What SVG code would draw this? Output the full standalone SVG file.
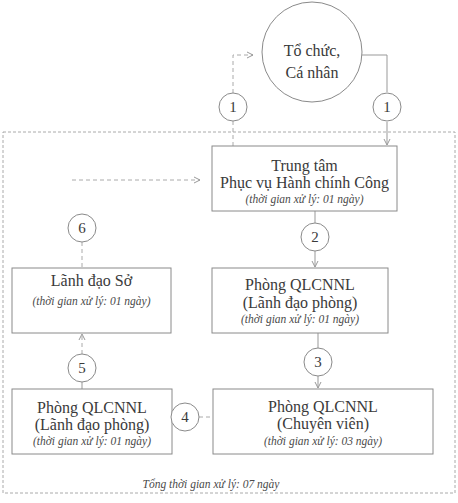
<svg xmlns="http://www.w3.org/2000/svg" width="458" height="503" viewBox="0 0 458 503">
<style>
.box{fill:#fff;stroke:#8a8a8a;stroke-width:1}
.cir{fill:#fff;stroke:#8a8a8a;stroke-width:1}
.t{font-family:"Liberation Serif",serif;font-size:16px;fill:#3a3a3a;text-anchor:middle}
.i{font-family:"Liberation Serif",serif;font-size:11.5px;font-style:italic;fill:#4a4a4a;text-anchor:middle}
.n{font-family:"Liberation Serif",serif;font-size:15px;fill:#3a3a3a;text-anchor:middle}
.ln{fill:none;stroke:#999;stroke-width:1}
.dl{fill:none;stroke:#aaa;stroke-width:1;stroke-dasharray:4 3}
</style>
<defs>
<marker id="ah" markerWidth="8" markerHeight="8" refX="7" refY="4" orient="auto" markerUnits="userSpaceOnUse">
<path d="M1,1 L7,4 L1,7" fill="none" stroke="#999" stroke-width="1"/>
</marker>
</defs>
<rect width="458" height="503" fill="#fff"/>
<rect x="3" y="132" width="452" height="361" fill="none" stroke="#aaa" stroke-width="1" stroke-dasharray="3 2"/>
<g id="connectors">
<path class="ln" d="M362,55 H387 V92"/>
<path class="ln" d="M387,122 V145" marker-end="url(#ah)"/>
<path class="dl" d="M233,146 V121"/>
<path class="dl" d="M233,93 V55 H253" marker-end="url(#ah)"/>
<path class="dl" d="M72,180 H200" marker-end="url(#ah)"/>
<path class="dl" d="M82,242 V268"/>
<path class="dl" d="M82,354 V334" marker-end="url(#ah)"/>
<path class="ln" d="M82,382 V389"/>
<path class="dl" d="M199,417 H213"/>
<path class="ln" d="M315,211 V223"/>
<path class="ln" d="M315,251 V267" marker-end="url(#ah)"/>
<path class="ln" d="M318,333 V348"/>
<path class="ln" d="M318,376 V388" marker-end="url(#ah)"/>
</g>
<g id="to-chuc">
<circle class="cir" cx="312" cy="52" r="50"/>
<text class="t" x="312" y="56">Tổ chức,</text>
<text class="t" x="312" y="78">Cá nhân</text>
</g>
<g id="c1-right"><circle class="cir" cx="387" cy="107" r="14"/><text class="n" x="387" y="112">1</text></g>
<g id="c1-left"><circle class="cir" cx="233" cy="107" r="14"/><text class="n" x="233" y="112">1</text></g>
<g id="trung-tam">
<rect class="box" x="212" y="146" width="185" height="65"/>
<text class="t" x="304.5" y="171">Trung tâm</text>
<text class="t" x="304.5" y="188">Phục vụ Hành chính Công</text>
<text class="i" x="304.5" y="203">(thời gian xử lý: 01 ngày)</text>
</g>
<g id="c6"><circle class="cir" cx="82" cy="228" r="14"/><text class="n" x="82" y="233">6</text></g>
<g id="c2"><circle class="cir" cx="315" cy="237" r="14"/><text class="n" x="315" y="242">2</text></g>
<g id="lanh-dao-so">
<rect class="box" x="12" y="268" width="159" height="65"/>
<text class="t" x="91.5" y="286">Lãnh đạo Sở</text>
<text class="i" x="91.5" y="305">(thời gian xử lý: 01 ngày)</text>
</g>
<g id="phong-ldp">
<rect class="box" x="212" y="268" width="176" height="65"/>
<text class="t" x="300" y="290">Phòng QLCNNL</text>
<text class="t" x="300" y="308">(Lãnh đạo phòng)</text>
<text class="i" x="300" y="323">(thời gian xử lý: 01 ngày)</text>
</g>
<g id="c5"><circle class="cir" cx="82" cy="368" r="14"/><text class="n" x="82" y="373">5</text></g>
<g id="c3"><circle class="cir" cx="318" cy="362" r="14"/><text class="n" x="318" y="367">3</text></g>
<g id="phong-ldp2">
<rect class="box" x="12" y="389" width="160" height="65"/>
<text class="t" x="92" y="413">Phòng QLCNNL</text>
<text class="t" x="92" y="430">(Lãnh đạo phòng)</text>
<text class="i" x="92" y="445">(thời gian xử lý: 01 ngày)</text>
</g>
<g id="c4"><circle class="cir" cx="185" cy="417" r="14"/><text class="n" x="185" y="422">4</text></g>
<g id="chuyen-vien">
<rect class="box" x="213" y="389" width="220" height="65"/>
<text class="t" x="323" y="412">Phòng QLCNNL</text>
<text class="t" x="323" y="429">(Chuyên viên)</text>
<text class="i" x="323" y="445">(thời gian xử lý: 03 ngày)</text>
</g>
<text class="i" x="211" y="488">Tổng thời gian xử lý: 07 ngày</text>
</svg>
